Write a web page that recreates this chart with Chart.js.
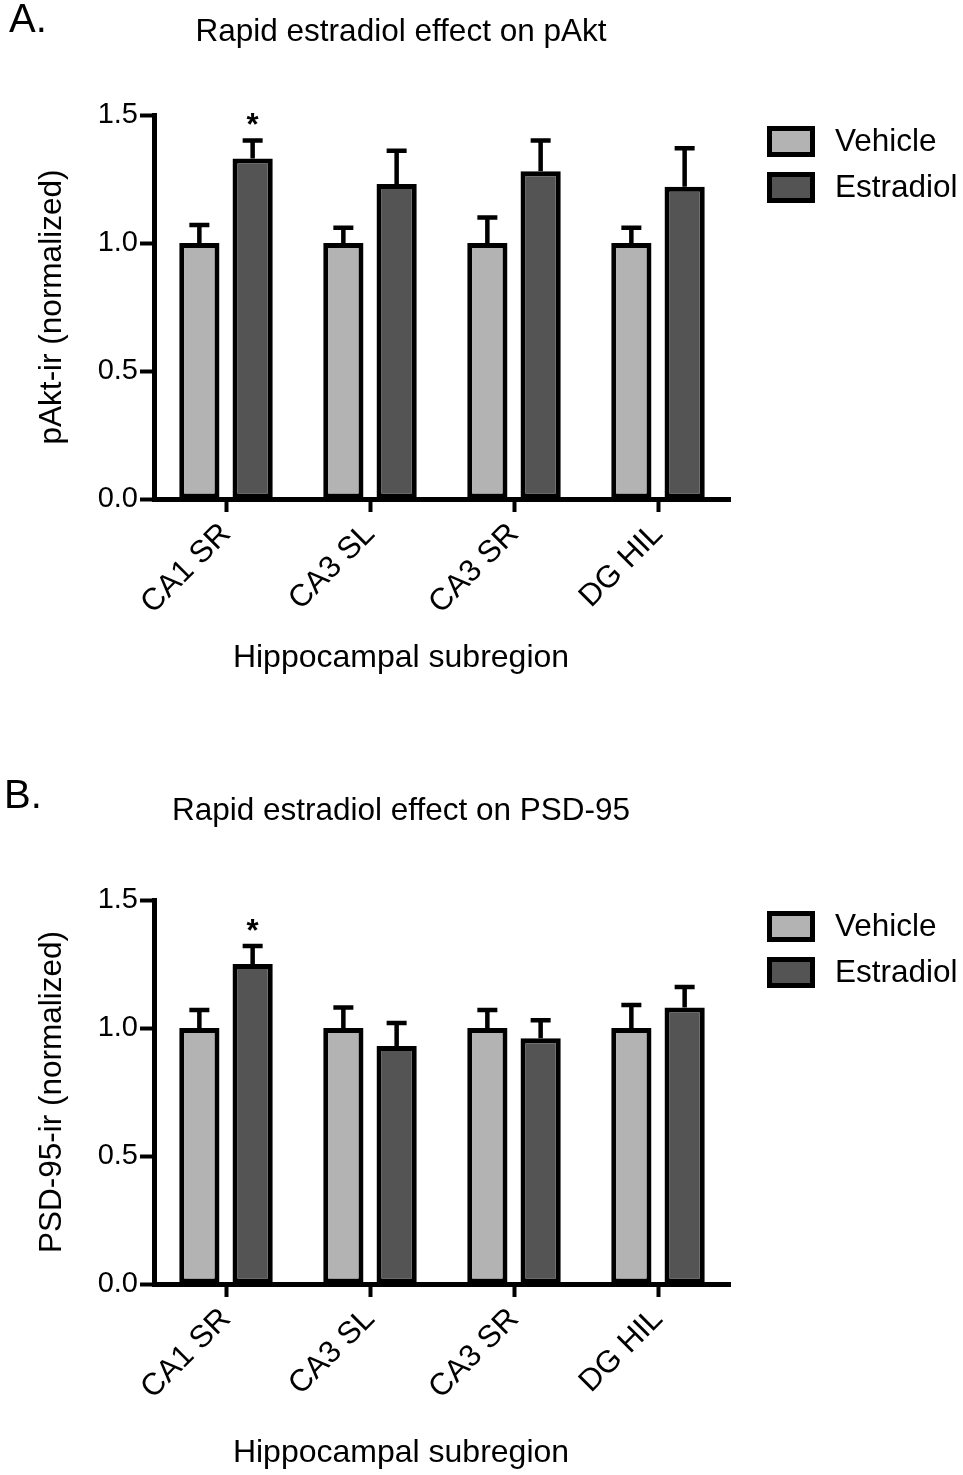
<!DOCTYPE html>
<html><head><meta charset="utf-8">
<script src="https://cdn.jsdelivr.net/npm/chart.js@4.4.0/dist/chart.umd.min.js"></script>
<style>html,body{margin:0;padding:0;background:#fff;}#wrap{position:relative;width:963px;height:1475px;}canvas{position:absolute;left:0;}</style>
</head><body><div id="wrap"><canvas id="cA" width="963" height="740" style="top:0px"></canvas><canvas id="cB" width="963" height="735" style="top:740px"></canvas></div>
<script>
// ---- data ----
const categories = ['CA1 SR', 'CA3 SL', 'CA3 SR', 'DG HIL'];
const seriesNames = ['Vehicle', 'Estradiol'];
const yTickValues = [0.0, 0.5, 1.0, 1.5];

const pAktVehicle = [1.00, 1.00, 1.00, 1.00];
const pAktVehicleErr = [0.07, 0.06, 0.10, 0.06];
const pAktEstradiol = [1.33, 1.23, 1.28, 1.22];
const pAktEstradiolErr = [0.07, 0.13, 0.12, 0.15];
const pAktSignificant = [true, false, false, false];

const psdVehicle = [1.00, 1.00, 1.00, 1.00];
const psdVehicleErr = [0.07, 0.08, 0.07, 0.09];
const psdEstradiol = [1.25, 0.93, 0.96, 1.08];
const psdEstradiolErr = [0.07, 0.09, 0.07, 0.08];
const psdSignificant = [true, false, false, false];

const panelTexts = {
  A: { letter: 'A.', title: 'Rapid estradiol effect on pAkt', yTitle: 'pAkt-ir (normalized)', xTitle: 'Hippocampal subregion' },
  B: { letter: 'B.', title: 'Rapid estradiol effect on PSD-95', yTitle: 'PSD-95-ir (normalized)', xTitle: 'Hippocampal subregion' }
};

// ---- styles ----
const FONT = "'Liberation Sans', Arial, Helvetica, sans-serif";
const VEH_COLOR = '#b3b3b3';
const EST_COLOR = '#545454';

const errorBarPlugin = {
  id: 'errbars',
  afterDatasetsDraw(chart, args, o) {
    const ctx = chart.ctx, ys = chart.scales.y;
    chart.data.datasets.forEach((ds, i) => {
      const meta = chart.getDatasetMeta(i);
      meta.data.forEach((bar, j) => {
        const v = ds.data[j], e = ds.errors[j];
        const yTop = bar.y, yCap = ys.getPixelForValue(v + e);
        ctx.save();
        ctx.strokeStyle = '#000'; ctx.lineWidth = o.lineWidth; ctx.lineCap = 'butt';
        ctx.beginPath();
        ctx.moveTo(bar.x, yTop); ctx.lineTo(bar.x, yCap);
        ctx.moveTo(bar.x - o.capHalf, yCap); ctx.lineTo(bar.x + o.capHalf, yCap);
        ctx.stroke();
        if (ds.significant && ds.significant[j]) {
          ctx.fillStyle = '#000'; ctx.font = o.starFont;
          ctx.textAlign = 'center'; ctx.textBaseline = 'middle';
          ctx.fillText('*', bar.x, yCap - o.starGap);
        }
        ctx.restore();
      });
    });
  }
};

const sideLegendPlugin = {
  id: 'sideLegend',
  afterDraw(chart, args, o) {
    const ctx = chart.ctx, top = chart.chartArea.top + o.offsetY;
    chart.data.datasets.forEach((ds, i) => {
      const y = top + i * o.rowGap;
      ctx.save();
      ctx.fillStyle = ds.backgroundColor;
      ctx.fillRect(o.x, y, o.boxW, o.boxH);
      ctx.lineWidth = o.border; ctx.strokeStyle = '#000';
      ctx.strokeRect(o.x + o.border / 2, y + o.border / 2, o.boxW - o.border, o.boxH - o.border);
      ctx.fillStyle = '#000'; ctx.font = o.font;
      ctx.textBaseline = 'middle'; ctx.textAlign = 'left';
      ctx.fillText(ds.label, o.textX, y + o.boxH / 2 + 1);
      ctx.restore();
    });
  }
};

const textsPlugin = {
  id: 'panelTexts',
  afterDraw(chart, args, o) {
    const ctx = chart.ctx;
    ctx.save();
    ctx.fillStyle = '#000'; ctx.textBaseline = 'middle';
    ctx.font = o.letterFont; ctx.textAlign = 'left';
    ctx.fillText(o.letter, o.letterX, o.letterY);
    ctx.font = o.titleFont; ctx.textAlign = 'center';
    ctx.fillText(o.title, o.centerX, o.titleY);
    ctx.font = o.xTitleFont;
    ctx.fillText(o.xTitle, o.centerX, o.xTitleY);
    ctx.restore();
  }
};

function makeChart(id, texts, veh, vehErr, est, estErr, sig, L) {
  const canvas = document.getElementById(id);
  return new Chart(canvas, {
    type: 'bar',
    data: {
      labels: categories,
      datasets: [
        { label: seriesNames[0], data: veh, errors: vehErr, backgroundColor: VEH_COLOR, borderColor: '#000', borderWidth: 5, borderSkipped: false },
        { label: seriesNames[1], data: est, errors: estErr, significant: sig, backgroundColor: EST_COLOR, borderColor: '#000', borderWidth: 5, borderSkipped: false }
      ]
    },
    options: {
      responsive: false, animation: false, devicePixelRatio: 1,
      events: [],
      layout: { padding: { left: 0, top: L.top, right: 963 - L.right, bottom: 0 } },
      datasets: { bar: { barPercentage: 0.755, categoryPercentage: 0.74 } },
      scales: {
        x: {
          offset: true,
          border: { display: true, color: '#000', width: 5 },
          grid: { offset: false, drawOnChartArea: false, drawTicks: true, tickLength: 13, tickWidth: 4, tickColor: '#000', color: '#000' },
          ticks: { autoSkip: false, maxRotation: 45, minRotation: 45, padding: 4, color: '#000', font: { family: FONT, size: 31 } },
          afterFit: (s) => { s.height = L.canvasH - L.bottom; }
        },
        y: {
          min: 0, max: 1.5,
          border: { display: true, color: '#000', width: 5 },
          grid: { drawOnChartArea: false, drawTicks: true, tickLength: 14, tickWidth: 4, tickColor: '#000', color: '#000' },
          ticks: { padding: 2, color: '#000', font: { family: FONT, size: 29 }, callback: (v) => Number(v).toFixed(1) },
          afterBuildTicks: (s) => { s.ticks = yTickValues.map(v => ({ value: v })); },
          title: { display: true, text: texts.yTitle, color: '#000', font: { family: FONT, size: 31.5 }, padding: { top: L.yTitlePad, bottom: 0 } },
          afterFit: (s) => { s.width = L.left; }
        }
      },
      plugins: {
        legend: { display: false },
        tooltip: { enabled: false },
        errbars: { lineWidth: 4.5, capHalf: 10, starFont: 'bold 31px ' + FONT, starGap: 14 },
        sideLegend: { x: 767, offsetY: 11, rowGap: 46, boxW: 48, boxH: 31, border: 5, textX: 835, font: '31.5px ' + FONT },
        panelTexts: { letter: texts.letter, title: texts.title, xTitle: texts.xTitle, letterFont: '40px ' + FONT, titleFont: '31.5px ' + FONT, xTitleFont: '32px ' + FONT,
          letterX: L.letterX, letterY: L.letterY, centerX: 401, titleY: L.titleY, xTitleY: L.xTitleY }
      }
    },
    plugins: [errorBarPlugin, sideLegendPlugin, textsPlugin]
  });
}

makeChart('cA', panelTexts.A, pAktVehicle, pAktVehicleErr, pAktEstradiol, pAktEstradiolErr, pAktSignificant,
  { canvasH: 740, top: 115, bottom: 499, left: 154, right: 730, yTitlePad: 33, letterX: 9, letterY: 21, titleY: 32, xTitleY: 658 });
makeChart('cB', panelTexts.B, psdVehicle, psdVehicleErr, psdEstradiol, psdEstradiolErr, psdSignificant,
  { canvasH: 735, top: 160, bottom: 544, left: 154, right: 730, yTitlePad: 33, letterX: 4, letterY: 57, titleY: 71, xTitleY: 713 });
</script></body></html>
